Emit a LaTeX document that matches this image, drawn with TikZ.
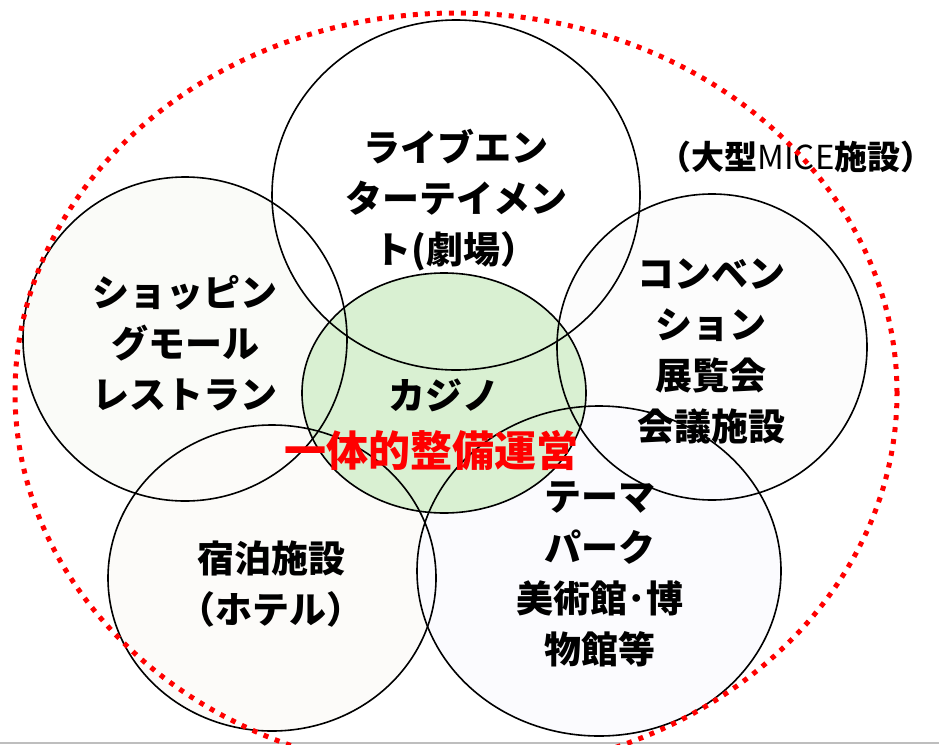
\documentclass[tikz,border=0pt]{standalone}
\usepackage{fontspec}
\setmainfont{Noto Sans CJK JP}
\begin{document}
\begin{tikzpicture}[x=1pt,y=-1pt,
  ring/.style={draw=black,line width=1.6pt},
  lbl/.style={font=\fontsize{37}{51}\selectfont\bfseries,align=center,inner sep=0pt},
  outer/.style={draw=red,line width=5pt,dash pattern=on 5pt off 7pt}]
\useasboundingbox (0,0) rectangle (939,744);
% fills
\fill[white] (0,0) rectangle (939,744);
\fill[fill={rgb,255:red,250;green,251;blue,248}] (185,339) ellipse [x radius=162pt,y radius=162pt];
\fill[white] (456,195) ellipse [x radius=184pt,y radius=175pt];
\fill[fill={rgb,255:red,252;green,252;blue,252}] (712,347) ellipse [x radius=155pt,y radius=153pt];
\fill[fill={rgb,255:red,252;green,251;blue,249}] (272,578) ellipse [x radius=164pt,y radius=153pt];
\fill[fill={rgb,255:red,251;green,251;blue,254}] (599,571) ellipse [x radius=182pt,y radius=165pt];
\fill[fill={rgb,255:red,217;green,240;blue,210}] (444,393) ellipse [x radius=142pt,y radius=120pt];
% outlines
\draw[ring] (185,339) ellipse [x radius=162pt,y radius=162pt];
\draw[ring] (456,195) ellipse [x radius=184pt,y radius=175pt];
\draw[ring] (712,347) ellipse [x radius=155pt,y radius=153pt];
\draw[ring] (272,578) ellipse [x radius=164pt,y radius=153pt];
\draw[ring] (599,571) ellipse [x radius=182pt,y radius=165pt];
\draw[ring] (444,393) ellipse [x radius=142pt,y radius=120pt];
% bottom gray line
\draw[draw={rgb,255:red,190;green,190;blue,190},line width=1.5pt] (0,743) -- (939,743);
% labels
\node[lbl] (live) at (456,200) {ライブエン\\ターテイメン\\ト(劇場）};
\node[lbl] (shop) at (185,343) {ショッピン\\グモール\\レストラン};
\node[lbl] (conv) at (711,351) {コンベン\\ション\\展覧会\\会議施設};
\node[lbl] (theme) at (600,574) {テーマ\\パーク\\美術館･博\\物館等};
\node[lbl] (hotel) at (271,584) {宿泊施設\\（ホテル）};
\node[lbl] (casino) at (444,395) {カジノ};
\node[lbl,text=red,font=\fontsize{42}{50}\selectfont\bfseries] (ittai) at (431,451) {一体的整備運営};
\node[inner sep=0pt,font=\fontsize{33}{40}\selectfont] (mice) at (796,157) {\textbf{（大型}MICE\textbf{施設）}};
% outer dotted ellipse
\draw[outer] (456,393) ellipse [x radius=441pt,y radius=380pt];
\end{tikzpicture}
\end{document}
